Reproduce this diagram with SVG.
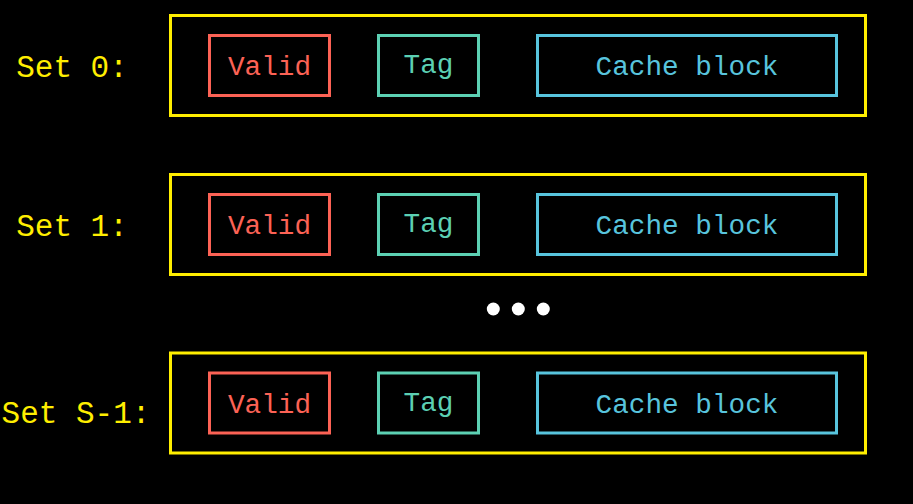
<svg xmlns="http://www.w3.org/2000/svg" width="913" height="504" viewBox="0 0 913 504">
  <style>
    .set { fill: none; stroke: #ffee00; stroke-width: 3; }
    .valid { fill: none; stroke: #fc6255; stroke-width: 3; }
    .tag { fill: none; stroke: #5cd0b3; stroke-width: 3; }
    .block { fill: none; stroke: #58c4dd; stroke-width: 3; }
    text { font-family: "Liberation Mono", "DejaVu Sans Mono", monospace; text-anchor: middle; }
    .lbl { fill: #ffee00; font-size: 31px; }
    .tv { fill: #fc6255; font-size: 27.7px; }
    .tt { fill: #5cd0b3; font-size: 27.7px; }
    .tb { fill: #58c4dd; font-size: 27.7px; }
  </style>
  <rect width="913" height="504" fill="#000000"/>
  <g id="set0">
    <text class="lbl" x="72" y="77">Set 0:</text>
    <rect class="set" x="170.5" y="15.5" width="695" height="100"/>
    <g id="set0-valid"><rect class="valid" x="209.5" y="35.5" width="120" height="60"/><text class="tv" x="269.5" y="75">Valid</text></g>
    <g id="set0-tag"><rect class="tag" x="378.5" y="35.5" width="100" height="60"/><text class="tt" x="428.5" y="73">Tag</text></g>
    <g id="set0-block"><rect class="block" x="537.5" y="35.5" width="299" height="60"/><text class="tb" x="687" y="75">Cache block</text></g>
  </g>
  <g id="set1">
    <text class="lbl" x="72" y="236">Set 1:</text>
    <rect class="set" x="170.5" y="174.5" width="695" height="100"/>
    <g id="set1-valid"><rect class="valid" x="209.5" y="194.5" width="120" height="60"/><text class="tv" x="269.5" y="234">Valid</text></g>
    <g id="set1-tag"><rect class="tag" x="378.5" y="194.5" width="100" height="60"/><text class="tt" x="428.5" y="232">Tag</text></g>
    <g id="set1-block"><rect class="block" x="537.5" y="194.5" width="299" height="60"/><text class="tb" x="687" y="234">Cache block</text></g>
  </g>
  <g id="ellipsis" fill="#ffffff">
    <circle cx="493.3" cy="309" r="6.5"/>
    <circle cx="518.3" cy="309" r="6.5"/>
    <circle cx="543.3" cy="309" r="6.5"/>
  </g>
  <g id="setS-1">
    <text class="lbl" x="76" y="423">Set S-1:</text>
    <rect class="set" x="170.5" y="353" width="695" height="100"/>
    <g id="setS-1-valid"><rect class="valid" x="209.5" y="373" width="120" height="60"/><text class="tv" x="269.5" y="413">Valid</text></g>
    <g id="setS-1-tag"><rect class="tag" x="378.5" y="373" width="100" height="60"/><text class="tt" x="428.5" y="411">Tag</text></g>
    <g id="setS-1-block"><rect class="block" x="537.5" y="373" width="299" height="60"/><text class="tb" x="687" y="413">Cache block</text></g>
  </g>
  <g id="connectors"/>
</svg>
